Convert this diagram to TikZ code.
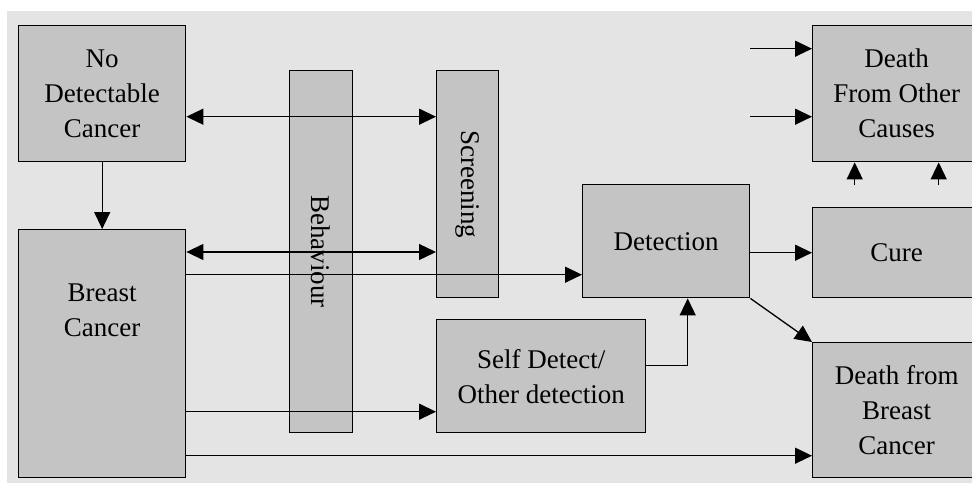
\documentclass[tikz,border=0pt]{standalone}
\usepackage{fontspec}
\setmainfont{Liberation Serif}
\usetikzlibrary{arrows.meta}
\definecolor{panelgray}{RGB}{228,228,228}
\definecolor{boxgray}{RGB}{196,196,196}
\tikzset{
  lbl/.style={font=\fontsize{27}{35}\selectfont, align=center, inner sep=0pt},
  box/.style={lbl, draw, fill=boxgray, line width=1.4pt, anchor=north west},
  flow/.style={line width=1.3pt, -{Triangle[length=17pt,width=16pt]}},
  both/.style={line width=1.3pt, {Triangle[length=17pt,width=16pt]}-{Triangle[length=17pt,width=16pt]}},
}
\begin{document}
\begin{tikzpicture}[x=1pt, y=-1pt]
  \clip (0,0) rectangle (972,483);
  \fill[white] (0,0) rectangle (972,483);
  \fill[panelgray] (7,11) rectangle (972,483);
  % left column
  \node[box, minimum width=167, minimum height=136] (ndc) at (18,25) {No\\Detectable\\Cancer};
  \node[box, minimum width=167, minimum height=248] (bc) at (18,229) {};
  \node[lbl] (bclbl) at ([yshift=-81pt]bc.north) {Breast\\Cancer};
  % the two tall bars
  \node[box, minimum width=63, minimum height=362] (beh) at (289,70) {};
  \node[lbl, rotate=-90] (behlbl) at (beh.center) {Behaviour};
  \node[box, minimum width=62, minimum height=227] (scr) at (436,70) {};
  \node[lbl, rotate=-90] (scrlbl) at (scr.center) {Screening};
  % middle
  \node[box, minimum width=167, minimum height=113] (det) at (582,184) {Detection};
  \node[box, minimum width=209, minimum height=113] (sd) at (436,319) {Self Detect/\\Other detection};
  % outcomes
  \node[box, minimum width=168, minimum height=136] (doc) at (812,25) {Death\\From Other\\Causes};
  \node[box, minimum width=168, minimum height=90] (cure) at (812,207) {Cure};
  \node[box, minimum width=168, minimum height=135] (dbc) at (812,342) {Death from\\Breast\\Cancer};

  % points where the arrows meet the boxes
  \coordinate (u1) at ([yshift=-23pt]ndc.east);
  \coordinate (u2) at ([yshift=-23pt]bc.north east);
  \coordinate (d1) at ([yshift=-33.5pt]det.west);
  \coordinate (d2) at ([yshift=-35.5pt]sd.west);
  \coordinate (d3) at ([yshift=-45.5pt]dbc.west);
  \coordinate (s1) at ([yshift=10.5pt]sd.east);
  \coordinate (s2) at ([xshift=21.5pt]det.south);
  \coordinate (o1) at ([yshift=45pt]doc.west);
  \coordinate (o2) at ([yshift=-23pt]doc.west);
  \coordinate (o3) at ([xshift=-42pt]doc.south);
  \coordinate (o4) at ([xshift=42pt]doc.south);
  \coordinate (o1s) at ([xshift=-62pt]o1);
  \coordinate (o2s) at ([xshift=-62pt]o2);
  \coordinate (o3s) at ([yshift=-23pt]o3);
  \coordinate (o4s) at ([yshift=-23pt]o4);

  \draw[flow] (ndc) -- (bc);
  \draw[both] (u1) -- (u1 -| scr.west);
  \draw[both] (u2) -- (u2 -| scr.west);
  \draw[flow] (d1 -| bc.east) -- (d1);
  \draw[flow] (d2 -| bc.east) -- (d2);
  \draw[flow] (d3 -| bc.east) -- (d3);
  \draw[flow] (det.east |- cure.west) -- (cure.west);
  \draw[flow] (det.south east) -- (dbc.north west);
  \draw[flow] (s1) -| (s2);
  \draw[flow] (o1s) -- (o1);
  \draw[flow] (o2s) -- (o2);
  \draw[flow] (o3s) -- (o3);
  \draw[flow] (o4s) -- (o4);
\end{tikzpicture}
\end{document}
